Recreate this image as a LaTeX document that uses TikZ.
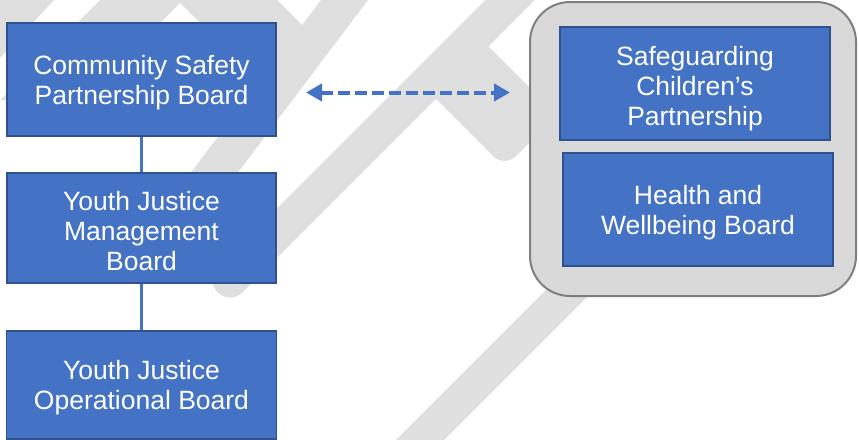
\documentclass[tikz,border=0pt]{standalone}
\usepackage{fontspec}
\setmainfont{Liberation Sans}
\usetikzlibrary{arrows.meta}
\definecolor{boxblue}{HTML}{4472C4}
\definecolor{boxline}{HTML}{2F528F}
\definecolor{stripegrey}{RGB}{223,223,223}
\definecolor{groupfill}{HTML}{D9D9D9}
\definecolor{groupline}{HTML}{7F7F7F}
\newcommand\boardfont{\fontsize{26.5}{30}\selectfont}
\tikzset{
  board/.style={draw=boxline, fill=boxblue, line width=1.6pt, text=white,
    align=center, font=\boardfont, inner sep=0pt},
  twolines/.style={text height=49.5pt, text depth=0pt},
  threelines/.style={text height=85pt, text depth=0pt},
  group/.style={draw=groupline, fill=groupfill, line width=2pt, rounded corners=40pt, inner sep=0pt},
  link/.style={draw=boxblue, line width=3.5pt},
  stripe/.style={draw=stripegrey, line cap=round},
  stripefill/.style={fill=stripegrey},
  twoway/.style={draw=boxblue, line width=4pt, dash pattern=on 12pt off 5pt,
    {Triangle[length=16pt,width=17pt]}-{Triangle[length=16pt,width=17pt]}}
}
\begin{document}
\begin{tikzpicture}[x=1pt,y=-1pt]
\useasboundingbox (0,0) rectangle (859,439);
\clip (0,0) rectangle (859,439);
% background watermark stripes
\fill[stripefill] (0,0) -- (54,0) -- (0,58) -- cycle;
\fill[stripefill] (0,100) -- (188.5,-88.5) -- (315.5,38.5) -- (272.5,95.5) -- (180,3) -- (83,100) -- cycle;
\draw[stripe, line width=37.5pt] (359.6,-20) -- (163.5,240);
\draw[stripe, line width=35pt] (230,280) -- (540,-30);
\fill[stripefill, rounded corners=16pt] (476,34) -- (557,115) -- (504.5,167.5) -- (423.5,86.5) -- cycle;
\draw[stripe, line width=34pt] (370,490) -- (700,160);
% group container
\node[group, minimum width=326pt, minimum height=294pt] (grp) at (693,149) {};
% boards
\node[board, twolines, minimum width=269pt, minimum height=113pt] (cspb) at (141.5,79.5) {Community Safety\\Partnership Board};
\node[board, threelines, minimum width=269pt, minimum height=110pt] (yjmb) at (141.5,228) {Youth Justice\\Management\\Board};
\node[board, twolines, minimum width=270pt, minimum height=108pt] (yjob) at (141.5,385) {Youth Justice\\Operational Board};
\node[board, threelines, text height=83pt, minimum width=270pt, minimum height=113pt] (scp) at (695,83.5) {Safeguarding\\Children’s\\Partnership};
\node[board, twolines, minimum width=270pt, minimum height=113pt] (hwb) at (698,209.5) {Health and\\Wellbeing Board};
% connectors
\draw[link] (cspb.south) -- (yjmb.north);
\draw[link] (yjmb.south) -- (yjob.north);
\coordinate (aL) at (306,92.5);
\coordinate (aR) at (510,92.5);
\draw[twoway] (aL) -- (aR);
\end{tikzpicture}
\end{document}
